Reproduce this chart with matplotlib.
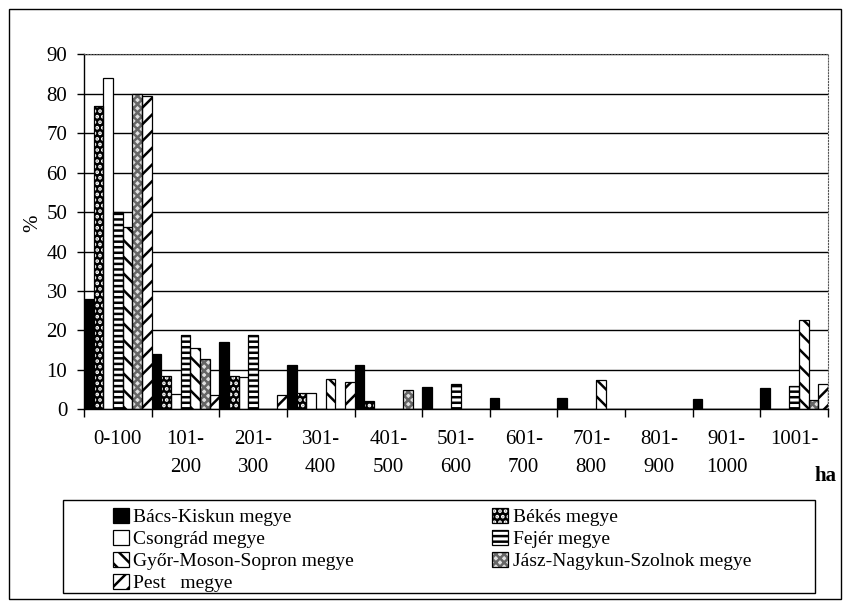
import numpy as np
import matplotlib.pyplot as plt
from matplotlib.patches import Rectangle
from matplotlib.legend_handler import HandlerTuple

plt.rcParams['font.family'] = ['Liberation Serif', 'DejaVu Serif']
plt.rcParams['hatch.linewidth'] = 1.8

categories = ['0-100', '101-\n200', '201-\n300', '301-\n400', '401-\n500',
              '501-\n600', '601-\n700', '701-\n800', '801-\n900', '901-\n1000',
              '1001-']

bacs = [28, 14, 17, 11.2, 11.2, 5.6, 2.8, 2.8, 0, 2.6, 5.3]
bekes = [77, 8.5, 8.5, 4.2, 2.2, 0, 0, 0, 0, 0, 0]
csongrad = [84, 3.9, 8.1, 4.1, 0, 0, 0, 0, 0, 0, 0]
fejer = [50, 18.9, 18.9, 0, 0, 6.3, 0, 0, 0, 0, 5.9]
gyor = [46.3, 15.5, 0, 7.7, 0, 0, 0, 7.4, 0, 0, 22.6]
jasz = [80, 12.7, 0, 0, 5.0, 0, 0, 0, 0, 0, 2.4]
pest = [79.5, 3.5, 3.5, 7.0, 0, 0, 0, 0, 0, 0, 6.4]

names = ['Bács-Kiskun megye', 'Békés megye', 'Csongrád megye', 'Fejér megye',
         'Győr-Moson-Sopron megye', 'Jász-Nagykun-Szolnok megye', 'Pest   megye']
values = [bacs, bekes, csongrad, fejer, gyor, jasz, pest]

# face colour, hatch colour, hatch pattern
styles = [('black', 'black', None),
          ('black', 'white', '...'),
          ('white', 'black', None),
          ('white', 'black', '---'),
          ('white', 'black', '\\\\'),
          ('#e0e0e0', '#666666', 'xxxx'),
          ('white', 'black', '//')]

fig = plt.figure(figsize=(8.48, 6.01), dpi=100)
W, H = 848, 601
ax = fig.add_axes([84 / W, 1 - 409.3 / H, (828 - 84) / W, (409.3 - 54.3) / H])

x = np.arange(len(categories))
w = 1 / 7
handles = []
for i, (name, vals) in enumerate(zip(names, values)):
    face, hcol, hatch = styles[i]
    pos = x + (i + 0.5) * w
    if hatch is None:
        b = ax.bar(pos, vals, w, facecolor=face, edgecolor='black', lw=0.9, zorder=2)
        handles.append(b.patches[0])
    else:
        b1 = ax.bar(pos, vals, w, facecolor=face, edgecolor=hcol, hatch=hatch,
                    lw=0, zorder=2)
        b2 = ax.bar(pos, vals, w, fill=False, edgecolor='black', lw=0.9, zorder=3)
        handles.append((b1.patches[0], b2.patches[0]))

ax.set_xlim(0, len(categories))
ax.set_ylim(0, 90)
ax.set_yticks(np.arange(0, 91, 10))
ax.set_xticks(np.arange(0, len(categories) + 1))
ax.set_xticklabels([])
ax.set_xticks(x + 0.5, minor=True)
ax.set_xticklabels(categories, minor=True, fontsize=15, linespacing=1.6)
ax.tick_params(axis='x', which='major', direction='out', length=6, width=1)
ax.tick_params(axis='x', which='minor', length=0, pad=15)
ax.tick_params(axis='y', direction='out', length=5, width=1, labelsize=15, pad=7)

ax.yaxis.grid(True, color='black', lw=1)
ax.set_axisbelow(True)
for s in ['left', 'bottom']:
    ax.spines[s].set_color('black')
    ax.spines[s].set_linewidth(1)
for s in ['top', 'right']:
    ax.spines[s].set_color('#555555')
    ax.spines[s].set_linestyle(':')

fig.text(33 / W, 1 - 223 / H, '%', rotation=90, fontsize=15, ha='center', va='center')
fig.text(825 / W, 1 - 476 / H, 'ha', fontsize=15, fontweight='bold', ha='center', va='center')

# outer frame and legend box
fig.add_artist(Rectangle((9 / W, 1 - 599 / H), (841 - 9) / W, (599 - 9) / H,
                         transform=fig.transFigure, fill=False, ec='black', lw=1))
fig.add_artist(Rectangle((63 / W, 1 - 593 / H), (815 - 63) / W, (593 - 500) / H,
                         transform=fig.transFigure, fill=False, ec='black', lw=1))

order = [0, 2, 4, 6, 1, 3, 5]
fig.legend([handles[k] for k in order], [names[k] for k in order],
           loc='upper left', bbox_to_anchor=(113 / W, 1 - 592 / H, (751 - 113) / W, (592 - 508) / H),
           bbox_transform=fig.transFigure, mode='expand', ncol=2, frameon=False,
           fontsize=14, borderpad=0, borderaxespad=0, labelspacing=0.2,
           handlelength=0.8, handleheight=0.8, handletextpad=0.25,
           handler_map={tuple: HandlerTuple(ndivide=1)})

fig.savefig('out.png', dpi=100)
